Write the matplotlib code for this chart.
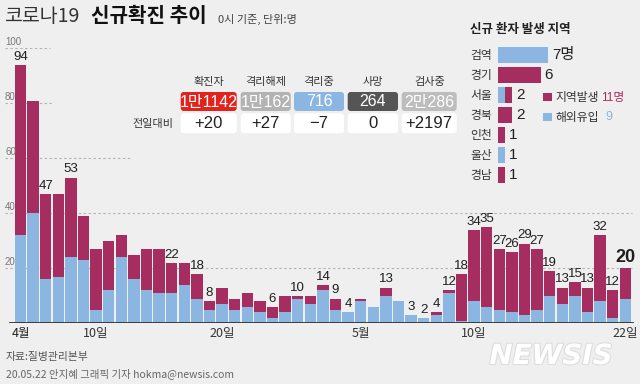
import numpy as np
import matplotlib
matplotlib.use("Agg")
import matplotlib.pyplot as plt
from matplotlib.patches import FancyBboxPatch, Rectangle
from matplotlib.transforms import blended_transform_factory
import matplotlib.patheffects as pe

KR = ['Noto Sans CJK KR', 'DejaVu Sans']
NUM = ['Liberation Sans Narrow', 'Liberation Sans', 'Noto Sans CJK KR', 'DejaVu Sans']
plt.rcParams['font.family'] = KR

# ---------------- data ----------------
# daily new cases, 2020-04-04 .. 2020-05-22
imported = [32, 40, 16, 17, 24, 23, 5, 12, 24, 16,
            12, 11, 11, 14, 9, 5, 7, 5, 6, 4,
            2, 4, 9, 7, 12, 5, 4, 8, 6, 10,
            8, 3, 2, 3, 11, 1, 8, 6, 5, 4,
            3, 5, 10, 7, 10, 4, 8, 2, 9]
local = [62, 41, 31, 30, 29, 16, 22, 18, 8, 9,
         15, 16, 11, 8, 9, 3, 6, 4, 5, 4,
         4, 6, 1, 3, 2, 4, 0, 1, 0, 3,
         0, 0, 0, 1, 1, 17, 26, 29, 22, 22,
         26, 22, 9, 6, 5, 9, 24, 10, 11]
labelled_days = [0, 2, 4, 12, 14, 15, 20, 22, 24, 25, 26, 29, 31, 32, 33, 34, 35,
                 36, 37, 38, 39, 40, 41, 42, 43, 44, 45, 46, 47, 48]
xtick_days = [0, 6, 16, 27, 36, 48]
xtick_labels = ['4월', '10일', '20일', '5월', '10일', '22일']
yticks = [20, 40, 60, 80, 100]

table_headers = ['확진자', '격리해제', '격리중', '사망', '검사중']
table_values = ['1만1142', '1만162', '716', '264', '2만286']
table_changes = ['+20', '+27', '−7', '0', '+2197']

regions = ['검역', '경기', '서울', '경북', '인천', '울산', '경남']
region_local = [0, 6, 1, 2, 1, 0, 1]
region_imported = [7, 0, 1, 0, 0, 1, 0]

# ---------------- style ----------------
BG = '#efefef'
RED = '#a62d5f'
BLUE = '#8bb6e2'
box_colors = ['#e3221b', '#b3b3b3', '#8bb6e2', '#555555', '#bdbdbd']

W, H = 640, 384
fig = plt.figure(figsize=(6.4, 3.84), dpi=100, facecolor=BG)

# main bar axes (pixel geometry)
L, R = 4, 634
y0px, y100px = 323.3, 48.3
x0c, pitch = 20.5, 12.6
ax = fig.add_axes([L / W, (H - y0px) / H, (R - L) / W, (y0px - y100px) / H])
ax.set_xlim((L - x0c) / pitch, (R - x0c) / pitch)
ax.set_ylim(0, 100)
ax.patch.set_alpha(0)
for s in ax.spines.values():
    s.set_visible(False)
ax.set_xticks([])
ax.set_yticks([])

def fx(px):
    return (px - L) / (R - L)

days = np.arange(len(local))
total = np.array(local) + np.array(imported)

grid_extent = {100: (5, 50), 80: (5, 52), 60: (5, 130), 40: (5, 632), 20: (5, 632)}
bt = blended_transform_factory(ax.transAxes, ax.transData)
for v in yticks:
    a, b = grid_extent[v]
    ax.axhline(v, xmin=fx(a), xmax=fx(b), color='#b4b4b4', lw=0.8,
               ls=(0, (2.2, 2.2)), zorder=0)
    ax.annotate(str(v), (fx(5), v), xycoords=bt, xytext=(0, 1.2),
                textcoords='offset points', ha='left', va='bottom',
                fontsize=7, color='#777777', family=NUM)

ax.bar(days, imported, width=0.89, color=BLUE, zorder=2)
ax.bar(days, local, bottom=imported, width=0.89, color=RED, zorder=2)
ax.axhline(0, xmin=fx(10), xmax=fx(633), color='#333333', lw=1.3, zorder=3)

for i in labelled_days:
    last = (i == len(days) - 1)
    ax.annotate(str(total[i]), (days[i], total[i]), xytext=(0, 1.6),
                textcoords='offset points', ha='center', va='bottom',
                fontsize=13 if last else 9.5, fontweight='bold' if last else 'normal',
                family=NUM, color='#1e1e1e', annotation_clip=False)

for d, lab in zip(xtick_days, xtick_labels):
    ax.annotate(lab, (d, 0), xytext=(0, -3), textcoords='offset points',
                ha='center', va='top', fontsize=9,
                color='#222222' if lab == '4월' else '#333333')

# overlay axes in pixel coordinates
ov = fig.add_axes([0, 0, 1, 1])
ov.set_xlim(0, W)
ov.set_ylim(H, 0)
ov.axis('off')
ov.patch.set_alpha(0)

# title
ov.text(4, 16, '코로나19', fontsize=14, color='#333333', va='center', ha='left')
ov.text(91, 16, '신규확진 추이', fontsize=14.5, color='#111111', fontweight='bold',
        va='center', ha='left')
ov.text(218, 19, '0시 기준, 단위:명', fontsize=8, color='#444444', va='center', ha='left')

# summary table
box_x = [(180.7, 236.7), (240.7, 290.7), (294, 344), (347.7, 398), (401.7, 456.7)]
for (a, b), head, val, chg, col in zip(box_x, table_headers, table_values,
                                         table_changes, box_colors):
    cx = (a + b) / 2
    ov.text(cx, 81.5, head, fontsize=8, color='#333333', ha='center', va='center')
    ov.add_patch(FancyBboxPatch((a, 92), b - a, 19, boxstyle='round,pad=0,rounding_size=3',
                                fc=col, ec='none'))
    ov.text(cx, 102, val, fontsize=11.5, color='white', ha='center', va='center', family=NUM)
    ov.add_patch(FancyBboxPatch((a, 113.3), b - a, 20, boxstyle='round,pad=0,rounding_size=3',
                                fc='white', ec='none'))
    ov.text(cx, 123.5, chg, fontsize=12, color='#222222', ha='center', va='center', family=NUM)
ov.text(153, 123.5, '전일대비', fontsize=8, color='#333333', ha='center', va='center')

# region panel
ov.text(470, 30, '신규 환자 발생 지역', fontsize=9, fontweight='bold', color='#222222',
        ha='left', va='center')
rx0, rx1, ry_top, ry_bot = 498, 570, 45, 185
rax = fig.add_axes([rx0 / W, (H - ry_bot) / H, (rx1 - rx0) / W, (ry_bot - ry_top) / H])
rax.set_xlim(0, 10)
rax.set_ylim(len(regions) - 0.5, -0.5)
rax.axis('off')
rax.patch.set_alpha(0)
ry = np.arange(len(regions))
rax.barh(ry, region_imported, height=0.8, color=BLUE)
rax.barh(ry, region_local, left=region_imported, height=0.8, color=RED)
for k, name in enumerate(regions):
    tot = region_local[k] + region_imported[k]
    rax.annotate(name, (0, k), xytext=(-4, 0), textcoords='offset points',
                 ha='right', va='center', fontsize=8.5, color='#333333',
                 annotation_clip=False)
    lab = f'{tot}명' if k == 0 else str(tot)
    rax.annotate(lab, (tot, k), xytext=(2.5, 0), textcoords='offset points',
                 ha='left', va='center', fontsize=11, color='#222222',
                 family=NUM, annotation_clip=False)

# legend
ov.add_patch(Rectangle((543, 93), 9, 8, fc=RED, ec='none'))
ov.text(555, 97.5, '지역발생', fontsize=8.5, color='#333333', ha='left', va='center')
ov.text(601, 97.5, f'{sum(region_local)}명', fontsize=8.5, color=RED, ha='left', va='center',
        family=NUM + ['Noto Sans CJK KR'])
ov.add_patch(Rectangle((543, 113), 9, 8, fc=BLUE, ec='none'))
ov.text(555, 117.5, '해외유입', fontsize=8.5, color='#333333', ha='left', va='center')
ov.text(605, 117.5, f'{sum(region_imported)}', fontsize=9, color=BLUE, ha='left', va='center',
        family=NUM)

# footer
ov.text(6, 357, '자료:질병관리본부', fontsize=7.8, color='#555555', ha='left', va='center')
ov.text(6, 374, '20.05.22 안지혜 그래픽 기자 hokma@newsis.com', fontsize=7.5,
        color='#666666', ha='left', va='center')

# watermark
ov.text(551, 356, 'NEWSIS', fontsize=20, fontweight='heavy', style='italic',
        color='white', ha='center', va='center', family=['DejaVu Sans'],
        path_effects=[pe.withStroke(linewidth=1.6, foreground='#dddddd')])

fig.savefig('out.png', dpi=100, facecolor=BG)
